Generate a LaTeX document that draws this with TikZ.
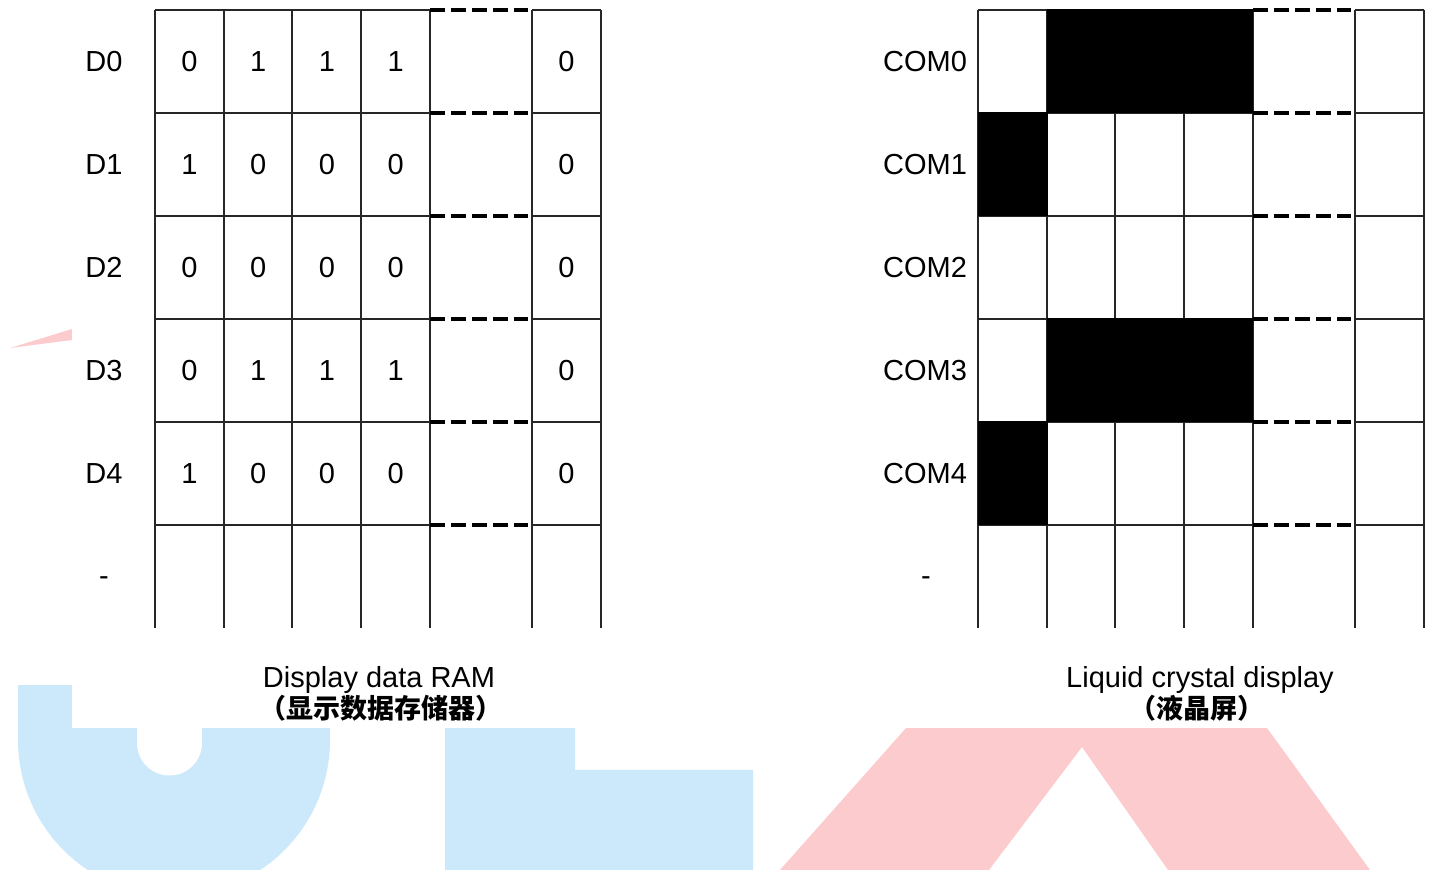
\documentclass[tikz,border=0pt]{standalone}
\usepackage{fontspec}
\setmainfont{Liberation Sans}
\newfontfamily\cjk{Noto Sans CJK SC}
\definecolor{logoblue}{RGB}{204,232,251}
\definecolor{logopink}{RGB}{252,203,206}

\begin{document}
\begin{tikzpicture}[x=0.5pt, y=-0.5pt, font=\fontsize{14.5}{17}\selectfont,
    gridline/.style={line width=1pt, black!85},
    gapline/.style={line width=1.6pt, dash pattern=on 7.5pt off 3pt},
    cncap/.style={font=\fontsize{13.5}{16}\selectfont\cjk\bfseries}]
    \useasboundingbox (0,0) rectangle (1432,870);
    
    % Logo in the background
    \begin{scope}
        \clip (0,740) rectangle (1432,870);
        \fill[logoblue] (174,740) circle (156);
    \end{scope}
    \fill[logoblue] (18,685) rectangle (330,740);
    \fill[white] (137,700) rectangle (202,743);
    \fill[white] (169.5,743) circle (32.5);
    \fill[logoblue] (445,700) -- (575,700) -- (575,770) -- (753,770) -- (753,870) -- (445,870) -- cycle;
    \fill[logopink] (780,870) -- (906,728) -- (1267,728) -- (1370,870) -- (1168,870) -- (1082,747) -- (989,870) -- cycle;
    \fill[logopink] (10,348) -- (72,329) -- (72,340) -- cycle;
    \fill[white] (72,0) rectangle (1432,728);
    
    % Grids (RAM left, display right)
    \foreach \o in {0,823} {
        \foreach \x in {155,224,292,361,430,532,601} \draw[gridline] (\x+\o,10) -- (\x+\o,628);
        \foreach \y in {10,113,...,525} {
            \draw[gridline] (155+\o,\y) -- (430+\o,\y);
            \draw[gridline] (532+\o,\y) -- (601+\o,\y);
            \draw[gapline] (430+\o,\y) -- (528+\o,\y);
        }
    }
    
    % Lit pixels on the display
    \fill (1046.5,9.5) rectangle (1252.5,113.5);
    \fill (977.5,112.5) rectangle (1047.5,216.5);
    \fill (1046.5,318.5) rectangle (1252.5,422.5);
    \fill (977.5,421.5) rectangle (1047.5,525.5);
    
    % Row labels and RAM bits
    \foreach \bits [count=\i from 0] in {{0,1,1,1},{1,0,0,0},{0,0,0,0},{0,1,1,1},{1,0,0,0}} {
        \node (d\i) at (104,61.5+103*\i) {D\i};
        \node (com\i) at (925,61.5+103*\i) {COM\i};
        \foreach \v [count=\j from 0] in \bits
            \node (bit\i\j) at (189.5+68.7*\j,61.5+103*\i) {\v};
        \node (bit\i n) at (566.5,61.5+103*\i) {0};
    }
    \node (dmore) at (104,581) {-};
    \node (commore) at (926,581) {-};
    
    % Captions
    \node[anchor=base] (ramcap) at (379,688) {Display data RAM};
    \node[cncap] (ramcn) at (381,708) {（显示数据存储器）};
    \node[anchor=base] (lcdcap) at (1200,688) {Liquid crystal display};
    \node[cncap] (lcdcn) at (1197,708) {（液晶屏）};
    
\end{tikzpicture}
\end{document}
